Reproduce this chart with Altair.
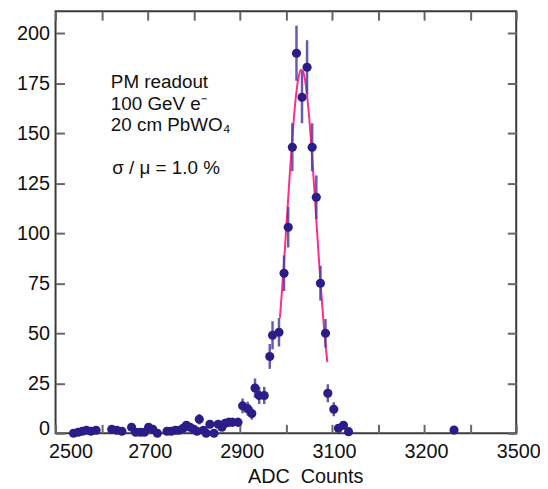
import altair as alt
import pandas as pd

# ---- measured histogram (ADC counts, entries, error) ----
adc = [2539, 2549, 2558, 2567, 2577, 2588, 2622, 2633, 2644, 2665, 2674, 2684, 2693, 2702, 2711, 2721,
       2742, 2751, 2760, 2768, 2777, 2784, 2792, 2800, 2807, 2812, 2821, 2827, 2835, 2844, 2853, 2861,
       2868, 2876, 2884, 2896, 2906, 2917, 2926, 2933, 2942, 2953, 2965, 2971, 2985, 2996, 3005, 3014,
       3023, 3035, 3046, 3057, 3066, 3075, 3086, 3091, 3104, 3114, 3125, 3136, 3365]
counts = [0, 0.5, 1, 1.5, 1, 1.5, 2, 1.5, 1, 3, 0.5, 0.5, 0.5, 3, 2, 0,
          1, 1, 1.5, 1.5, 2.5, 4, 3, 2, 1, 7, 1.5, 0, 4.5, 0, 4.5, 3,
          5, 5.5, 5.5, 5.5, 13.7, 12.3, 9.9, 22.6, 18.9, 18.9, 38.4, 49, 50.5, 80, 103, 143,
          190, 168, 183, 143, 118, 75, 50, 20, 12, 2.5, 4, 0.8, 1.6]
err = [0, 0.7, 1, 1.2, 1, 1.2, 1.4, 1.2, 1, 1.7, 0.7, 0.7, 0.7, 1.7, 1.4, 0,
       1, 1, 1.2, 1.2, 1.6, 2, 1.7, 1.4, 1, 2.6, 1.2, 0, 2.1, 0, 2.1, 1.7,
       2.2, 2.3, 2.3, 2.3, 3.7, 3.5, 3.1, 4.8, 4.3, 4.3, 6.2, 7, 7.1, 8.9, 10.1, 12,
       13.8, 13, 13.5, 12, 10.9, 8.7, 7.1, 4.5, 3.5, 1.6, 2, 0.9, 1.3]

# ---- fitted curve ----
fit_adc = [2987, 2992, 2997, 3002, 3007, 3012, 3017, 3022, 3027, 3032, 3037,
           3042, 3047, 3052, 3057, 3062, 3067, 3072, 3077, 3082, 3087, 3090]
fit_counts = [57.7, 72.7, 89.3, 106.8, 124.6, 141.5, 156.6, 168.9, 177.4, 181.6, 181.1,
              176.0, 166.7, 153.8, 138.2, 121.0, 103.3, 85.9, 69.5, 54.9, 42.2, 35.6]

# ---- annotation ----
note_text = ["PM readout", "100 GeV e\u207b", "20 cm PbWO\u2084", "\u03c3 / \u03bc = 1.0 %"]
note_x = [2620, 2620, 2620, 2623]
note_y = [172.4, 161.7, 151.1, 129.8]

# ---- axes ----
x_tick_vals = [2500, 2600, 2700, 2800, 2900, 3000, 3100, 3200, 3300, 3400, 3500]
x_label_vals = [2500, 2700, 2900, 3100, 3300, 3500]
x_label_text = ["2500", "2700", "2900", "3100", "3200", "3500"]
y_tick_vals = [0, 25, 50, 75, 100, 125, 150, 175, 200]

FONT = "Liberation Sans"
INK = "#111111"
DOT = "#2a1d88"
BAR = "#4a3f9e"
FIT = "#ff2d8a"
TICK = "#666666"

df = pd.DataFrame({"adc": adc, "counts": counts, "err": err})
fit_df = pd.DataFrame({"adc": fit_adc, "counts": fit_counts})
note_df = pd.DataFrame({"adc": note_x, "counts": note_y, "text": note_text})

label_expr = " : ".join(
    f"datum.value == {v} ? '{t}'" for v, t in zip(x_label_vals, x_label_text)
) + " : ''"

xscale = alt.Scale(domain=[2500, 3500], nice=False, zero=False)
yscale = alt.Scale(domain=[0, 211], nice=False, zero=False)

common = dict(domain=False, grid=False, tickSize=9, offset=-9, tickColor=TICK,
              tickWidth=2, labelFont=FONT, labelColor=INK, labelFontSize=20,
              labelFlush=False)

x_bottom = alt.Axis(orient="bottom", values=x_tick_vals, labelExpr=label_expr,
                    labelOverlap=False, labelPadding=8,
                    labelOffset={"condition": {"test": "datum.value == 2500", "value": 15}, "value": 2},
                    title="ADC\u00a0 Counts", titleFont=FONT, titleFontSize=20,
                    titleFontWeight="normal", titleColor=INK, titleX=252, titleY=59,
                    titleBaseline="alphabetic", **common)
y_left = alt.Axis(orient="left", values=y_tick_vals, labelPadding=6, title=None,
                  labelOffset={"condition": {"test": "datum.value == 0", "value": -5}, "value": 0},
                  **common)
x_top = alt.Axis(orient="top", values=x_tick_vals, labels=False, title=None, **common)
y_right = alt.Axis(orient="right", values=y_tick_vals, labels=False, title=None, **common)

fit = alt.Chart(fit_df).mark_line(color=FIT, strokeWidth=2, interpolate="monotone").encode(
    x=alt.X("adc:Q", scale=xscale, axis=x_top),
    y=alt.Y("counts:Q", scale=yscale, axis=y_right),
)

bars = alt.Chart(df).transform_calculate(
    lo="datum.counts - datum.err", hi="datum.counts + datum.err"
).mark_rule(color=BAR, strokeWidth=2.5, opacity=0.85).encode(
    x=alt.X("adc:Q", scale=xscale, axis=None),
    y=alt.Y("lo:Q", scale=yscale, axis=None),
    y2="hi:Q",
)

pts = alt.Chart(df).mark_circle(color=DOT, size=85, opacity=1).encode(
    x=alt.X("adc:Q", scale=xscale, axis=x_bottom),
    y=alt.Y("counts:Q", scale=yscale, axis=y_left),
)

notes = alt.Chart(note_df).mark_text(align="left", baseline="alphabetic", font=FONT,
                                     fontSize=19, color=INK).encode(
    x=alt.X("adc:Q", scale=xscale, axis=None),
    y=alt.Y("counts:Q", scale=yscale, axis=None),
    text="text:N",
)

chart = alt.layer(fit, bars, pts, notes).resolve_axis(
    x="independent", y="independent"
).properties(
    width=465, height=426,
    autosize=alt.AutoSizeParams(type="none"),
    padding={"left": 48, "top": 1, "right": 24, "bottom": 53},
    background="white",
).configure_view(stroke="#3a3a3a", strokeWidth=2)

chart.save("out.html", embed_options={"renderer": "svg", "actions": False})
